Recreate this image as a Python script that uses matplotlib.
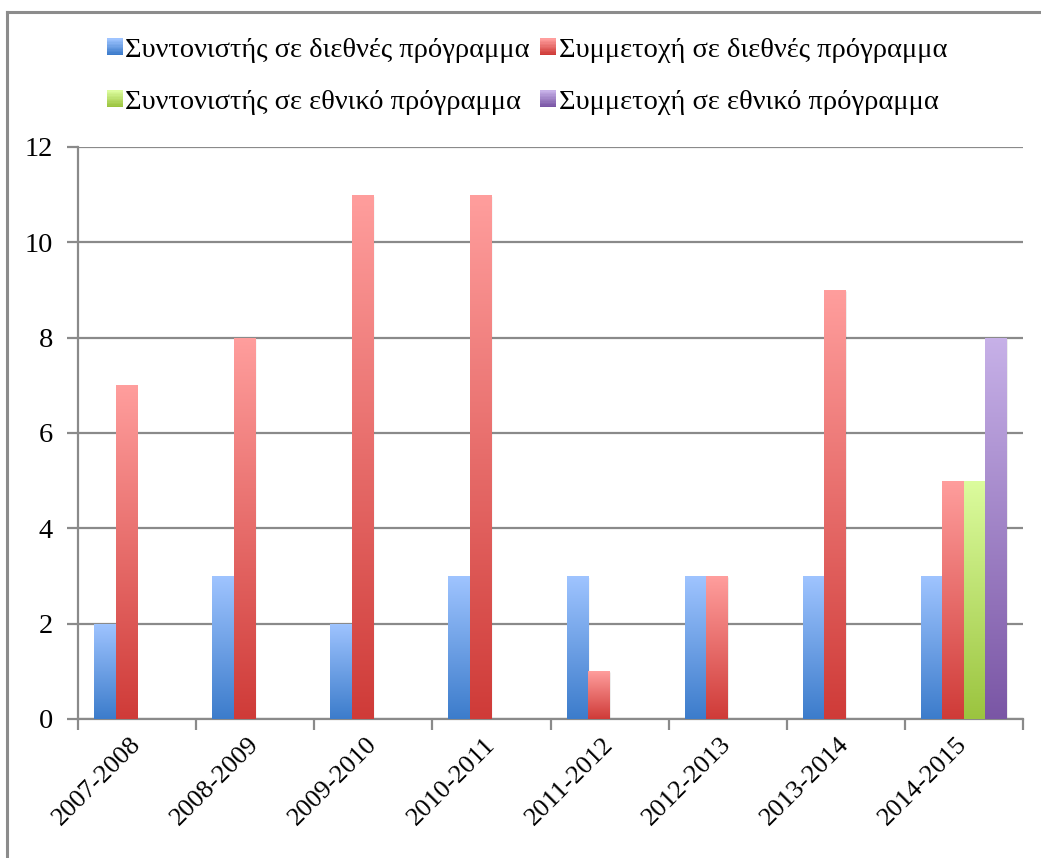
import numpy as np
import matplotlib
matplotlib.use("Agg")
import matplotlib.pyplot as plt
from matplotlib.colors import LinearSegmentedColormap
from matplotlib.lines import Line2D
from matplotlib.patches import Rectangle
from matplotlib.legend_handler import HandlerBase

plt.rcParams['font.family'] = ['Liberation Serif', 'DejaVu Serif']

categories = ["2007-2008", "2008-2009", "2009-2010", "2010-2011",
              "2011-2012", "2012-2013", "2013-2014", "2014-2015"]
series_names = ["Συντονιστής σε διεθνές πρόγραμμα",
                "Συμμετοχή σε διεθνές πρόγραμμα",
                "Συντονιστής σε εθνικό πρόγραμμα",
                "Συμμετοχή σε εθνικό πρόγραμμα"]
coord_intl = [2, 3, 2, 3, 3, 3, 3, 3]
partic_intl = [7, 8, 11, 11, 1, 3, 9, 5]
coord_nat = [np.nan] * 7 + [5]
partic_nat = [np.nan] * 7 + [8]
y_ticks = [0, 2, 4, 6, 8, 10, 12]

series_values = [coord_intl, partic_intl, coord_nat, partic_nat]
grad_colors = [("#9fc4ff", "#3c7ccb"),
               ("#ff9e9d", "#cf3b38"),
               ("#dcfc9e", "#9bc43f"),
               ("#c7b1e8", "#7a56a5")]

FS = 20.5
W, H = 1041, 858
fig = plt.figure(figsize=(W / 100, H / 100), dpi=100)
ax = fig.add_axes([78 / W, 1 - 719 / H, (1023 - 78) / W, (719 - 147) / H])

n = len(categories)
x = np.arange(n)
w = 1 / 5.5
offsets = [-1.5 * w, -0.5 * w, 0.5 * w, 1.5 * w]

grad = np.linspace(0, 1, 256).reshape(-1, 1)
cmaps = []
for vals, off, (ctop, cbot) in zip(series_values, offsets, grad_colors):
    cmap = LinearSegmentedColormap.from_list("g", [cbot, ctop])
    cmaps.append(cmap)
    bars = ax.bar(x + off, vals, width=w, color="none", edgecolor="none", zorder=3)
    for b, v in zip(bars, vals):
        if np.isnan(v):
            continue
        x0, y0 = b.get_x(), b.get_y()
        bw, bh = b.get_width(), b.get_height()
        for k, a in enumerate([0.05, 0.04, 0.03]):
            sh = Rectangle((x0 + 0.004 * (k + 1), y0), bw, bh - 0.02 * k,
                           facecolor="black", alpha=a, edgecolor="none", zorder=2.5)
            ax.add_patch(sh)
        im = ax.imshow(grad, cmap=cmap, origin="lower", aspect="auto",
                       extent=[x0, x0 + bw, y0, y0 + bh], zorder=3,
                       interpolation="bilinear")
        im.set_clip_path(b)

ax.set_xlim(-0.5, n - 0.5)
ax.set_ylim(0, 12)
ax.set_yticks(y_ticks)
ax.set_yticklabels([str(t) for t in y_ticks], fontsize=FS)
ax.yaxis.grid(True, color="#8a8a8a", linewidth=1.6, zorder=1)
ax.set_axisbelow(True)

ax.set_xticks(np.arange(n + 1) - 0.5)
ax.set_xticklabels([])
ax.set_xticks(x, minor=True)
ax.set_xticklabels(categories, minor=True, fontsize=19, rotation=45,
                   ha="right", va="center", rotation_mode="anchor")
ax.tick_params(axis="x", which="minor", length=0, pad=16)
ax.tick_params(axis="x", which="major", length=8, width=1.6, color="#8a8a8a")
ax.tick_params(axis="y", length=8, width=1.6, color="#8a8a8a", pad=10)

for s in ["top", "right"]:
    ax.spines[s].set_visible(False)
for s in ["left", "bottom"]:
    ax.spines[s].set_color("#8a8a8a")
    ax.spines[s].set_linewidth(1.6)


class GradHandle:
    def __init__(self, cmap):
        self.cmap = cmap


class HandlerGrad(HandlerBase):
    def create_artists(self, legend, orig_handle, xdescent, ydescent,
                       width, height, fontsize, trans):
        arts = []
        steps = 12
        for i in range(steps):
            c = orig_handle.cmap(i / (steps - 1))
            r = Rectangle((-xdescent, -ydescent + height * i / steps), width,
                          height / steps + 0.3, facecolor=c, edgecolor="none",
                          transform=trans)
            arts.append(r)
        return arts


handles = [GradHandle(cm) for cm in cmaps]
order = [0, 2, 1, 3]
leg = fig.legend([handles[i] for i in order], [series_names[i] for i in order],
                 handler_map={GradHandle: HandlerGrad()},
                 loc="upper center", ncol=2,
                 bbox_to_anchor=(527 / W, 1 - 12 / H), frameon=False,
                 fontsize=FS, handlelength=0.56, handleheight=0.53,
                 handletextpad=0.1, columnspacing=0.35, labelspacing=0.95)

# figure border
fig.add_artist(Line2D([7 / W, 1], [1 - 12 / H, 1 - 12 / H], color="#8c8c8c", lw=2.2))
fig.add_artist(Line2D([7 / W, 7 / W], [0, 1 - 12 / H], color="#8c8c8c", lw=2.2))

fig.savefig("out.png", dpi=100)
